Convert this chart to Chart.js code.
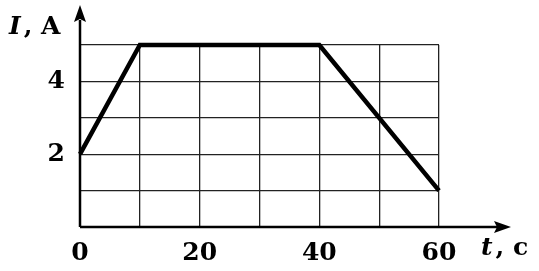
<!DOCTYPE html>
<html>
<head>
<meta charset="utf-8">
<script src="https://cdn.jsdelivr.net/npm/chart.js@4"></script>
<style>
  html, body { margin: 0; padding: 0; background: #fff; }
  #wrap { width: 539px; height: 271px; }
</style>
</head>
<body>
<div id="wrap"><canvas id="ivt" width="539" height="271"></canvas></div>
<script>
// I(t) graph data
const times = [0, 10, 40, 60];
const current = [2, 5, 5, 1];
const xTickLabels = [0, 20, 40, 60];
const yTickLabels = [2, 4];

const FONT = "'DejaVu Serif', 'Liberation Serif', serif";

// axis arrows + axis titles
const axesArrows = {
  id: 'axesArrows',
  afterDraw(chart) {
    const c = chart.ctx;
    const x0 = chart.scales.x.getPixelForValue(0);
    const y0 = chart.scales.y.getPixelForValue(0);
    c.save();
    c.strokeStyle = '#000';
    c.fillStyle = '#000';
    c.lineWidth = 2.5;
    c.beginPath();
    c.moveTo(x0, y0);
    c.lineTo(498, y0);
    c.moveTo(x0, y0);
    c.lineTo(x0, 20);
    c.stroke();
    // x arrow head
    c.beginPath();
    c.moveTo(511, y0);
    c.lineTo(494, y0 - 6);
    c.lineTo(497, y0);
    c.lineTo(494, y0 + 6);
    c.closePath();
    c.fill();
    // y arrow head
    c.beginPath();
    c.moveTo(x0, 5);
    c.lineTo(x0 - 6, 22);
    c.lineTo(x0, 19);
    c.lineTo(x0 + 6, 22);
    c.closePath();
    c.fill();

    c.textBaseline = 'alphabetic';
    c.textAlign = 'left';
    // I, A
    c.font = 'italic bold 25px ' + FONT;
    c.fillText('I', 9, 34);
    let w = c.measureText('I').width;
    c.font = 'bold 25px ' + FONT;
    c.fillText(', A', 9 + w + 3, 34);
    // t, c
    c.font = 'italic bold 25px ' + FONT;
    c.fillText('t', 481, 255);
    w = c.measureText('t').width;
    c.font = 'bold 25px ' + FONT;
    c.fillText(', c', 481 + w + 3, 255);
    c.restore();
  }
};

new Chart(document.getElementById('ivt'), {
  type: 'scatter',
  data: {
    datasets: [{
      data: times.map((t, i) => ({ x: t, y: current[i] })),
      showLine: true,
      borderColor: '#000',
      borderWidth: 4.5,
      pointRadius: 0,
      clip: false,
    }]
  },
  options: {
    responsive: false,
    animation: false,
    layout: { padding: { top: 45, right: 100, left: 0, bottom: 0 } },
    plugins: { legend: { display: false }, tooltip: { enabled: false } },
    scales: {
      x: {
        type: 'linear',
        min: 0,
        max: 60,
        afterFit(s) { s.height = 44; },
        border: { display: false },
        grid: { color: '#222', lineWidth: 1.3, drawTicks: false },
        ticks: {
          stepSize: 10,
          padding: 11,
          color: '#000',
          font: { family: FONT, size: 25, weight: 'bold' },
          maxRotation: 0,
          callback: v => xTickLabels.includes(v) ? String(v) : ''
        }
      },
      y: {
        type: 'linear',
        min: 0,
        max: 5,
        afterFit(s) { s.width = 80; },
        border: { display: false },
        grid: { color: '#222', lineWidth: 1.3, drawTicks: false },
        ticks: {
          stepSize: 1,
          padding: 15,
          color: '#000',
          font: { family: FONT, size: 25, weight: 'bold' },
          callback: v => yTickLabels.includes(v) ? String(v) : ''
        }
      }
    }
  },
  plugins: [axesArrows]
});
</script>
</body>
</html>
